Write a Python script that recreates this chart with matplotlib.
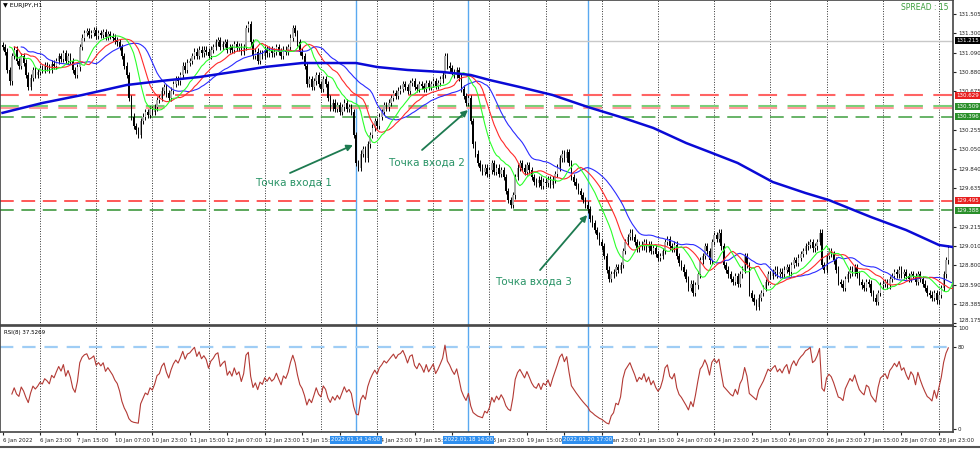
import numpy as np
import pandas as pd
import matplotlib
matplotlib.use('Agg')
import matplotlib.pyplot as plt
import matplotlib.transforms as mtransforms
from matplotlib.lines import Line2D

# EURJPY H1, closes per bar (bar 0 = 6 Jan 07:00)
close = [
    131.15, 131.10, 130.90, 130.78, 131.05, 131.12, 131.00, 130.95, 131.05, 130.98,
    130.85, 130.72, 130.82, 130.90, 130.85, 130.88, 130.92,
    130.90, 130.95, 130.93, 130.90, 130.97, 130.95,
    131.00, 131.05, 131.02, 131.08, 131.00, 131.05, 131.00,
    130.90, 130.85, 130.93, 131.15, 131.25,
    131.30, 131.32, 131.28, 131.30, 131.33, 131.27, 131.30, 131.28, 131.31, 131.26, 131.29, 131.27, 131.25,
    131.22, 131.20, 131.15, 131.05, 130.95, 130.85, 130.60,
    130.40, 130.30, 130.25, 130.20, 130.35,
    130.40, 130.45, 130.42, 130.48, 130.45, 130.50, 130.58, 130.60,
    130.68, 130.72, 130.65, 130.60, 130.68, 130.75, 130.80, 130.78, 130.85,
    130.95, 130.90, 130.98, 131.00, 131.05, 131.10, 131.05, 131.12,
    131.08, 131.12, 131.10, 131.05, 131.12, 131.15,
    131.20, 131.22, 131.15, 131.18, 131.20, 131.12,
    131.15, 131.12, 131.18, 131.14, 131.16, 131.10, 131.15,
    131.35, 131.40, 131.20,
    131.05, 131.10, 131.00, 131.08, 131.05, 131.12, 131.08,
    131.12, 131.08, 131.10, 131.15, 131.10, 131.05, 131.12, 131.10, 131.15,
    131.25, 131.35, 131.30, 131.20, 131.10, 131.05, 130.95, 130.75,
    130.80, 130.72, 130.78, 130.85, 130.75, 130.70, 130.80, 130.75,
    130.60, 130.50, 130.55,
    130.48, 130.52, 130.45, 130.50, 130.55, 130.48, 130.50, 130.45,
    130.20, 129.90, 129.85, 130.00, 130.05, 129.95, 130.10,
    130.20, 130.28, 130.35, 130.30, 130.40, 130.45, 130.52, 130.50, 130.55,
    130.60, 130.65, 130.62, 130.68,
    130.70, 130.75, 130.72, 130.68, 130.76, 130.78, 130.72, 130.70, 130.75, 130.73,
    130.70, 130.76, 130.72, 130.75, 130.78, 130.73, 130.76, 130.80, 130.85,
    131.05, 130.95, 130.92, 130.88, 130.85, 130.90, 130.82,
    130.70, 130.62, 130.55, 130.60, 130.35, 130.10, 130.00, 129.90, 129.85,
    129.80, 129.85, 129.78, 129.82, 129.90, 129.80, 129.85, 129.78, 129.82, 129.75,
    129.60, 129.50, 129.45, 129.55, 129.75, 129.85, 129.90,
    129.85, 129.80, 129.88, 129.82,
    129.75, 129.70, 129.68, 129.72, 129.65, 129.70, 129.68, 129.72, 129.66,
    129.72, 129.78, 129.85, 129.95, 130.00, 129.95, 130.02, 129.90,
    129.75, 129.70, 129.65, 129.60, 129.55, 129.50, 129.45, 129.40,
    129.30, 129.25, 129.18, 129.12, 129.05, 129.00, 128.90,
    128.75, 128.65, 128.70, 128.72, 128.78, 128.75, 128.80,
    128.95, 129.05, 129.10, 129.15, 129.10,
    129.05, 128.98, 129.02, 129.00, 129.05, 128.98, 129.02, 128.95, 128.98,
    128.92, 128.88, 128.90, 128.95, 129.05, 129.08, 129.00,
    128.98, 129.02, 128.90, 128.82, 128.78, 128.72,
    128.65, 128.55, 128.60, 128.50, 128.58, 128.70, 128.85, 128.90,
    129.00, 128.95, 128.85, 129.05, 129.12, 129.08, 129.15, 129.00,
    128.80, 128.75, 128.70, 128.65, 128.62, 128.68, 128.60, 128.70, 128.75,
    128.90, 128.80, 128.50, 128.45, 128.40, 128.35, 128.45,
    128.50, 128.55, 128.62,
    128.70, 128.68, 128.72, 128.75, 128.70, 128.73, 128.70,
    128.75, 128.78, 128.72, 128.80, 128.85, 128.82,
    128.88, 128.92, 128.95, 129.00, 129.02, 129.05, 128.98, 129.00, 129.05,
    129.15, 128.80, 128.75,
    128.90, 128.95, 128.92, 128.85, 128.75,
    128.62, 128.60, 128.55, 128.65, 128.70,
    128.75, 128.72, 128.78, 128.70,
    128.62, 128.58, 128.55, 128.62, 128.60, 128.50,
    128.45, 128.40, 128.50,
    128.58, 128.60, 128.62, 128.58, 128.65, 128.68,
    128.72, 128.70, 128.75, 128.70, 128.72, 128.68,
    128.65, 128.70, 128.68, 128.62, 128.70, 128.65, 128.60,
    128.55, 128.50, 128.48, 128.45, 128.50, 128.42, 128.48,
    128.55, 128.70, 128.85, 128.98,
]

# long moving average (thick blue), read at a few bars
ma_bar = [0, 17, 34, 53, 70, 84, 101, 112, 128, 142, 151, 160, 173, 188, 200, 208,
          221, 235, 250, 264, 278, 292, 302, 314, 329, 343, 353, 371, 386, 400, 406]
ma_val = [130.44, 130.546, 130.632, 130.74, 130.79, 130.826, 130.89, 130.934, 130.977,
          130.977, 130.977, 130.934, 130.902, 130.88, 130.848, 130.794, 130.718, 130.632,
          130.503, 130.395, 130.277, 130.115, 130.018, 129.90, 129.695, 129.576, 129.50,
          129.317, 129.177, 129.016, 128.994]

# horizontal levels
level_price = [130.629, 130.509, 130.492, 130.396, 129.495, 129.388]
level_color = ['#ff6464', '#78d078', '#ff9a9a', '#3f9f3f', '#ff2a2a', '#2f8f2f']
level_label = ['130.629', '130.509', None, '130.396', '129.495', '129.388']
bid_price = 131.215

price_ticks = [131.505, 131.300, 131.090, 130.880, 130.675, 130.255, 130.050, 129.840,
               129.635, 129.215, 129.010, 128.800, 128.590, 128.385, 128.175]

x_labels = ['6 Jan 2022', '6 Jan 23:00', '7 Jan 15:00', '10 Jan 07:00', '10 Jan 23:00',
            '11 Jan 15:00', '12 Jan 07:00', '12 Jan 23:00', '13 Jan 15:00', '',
            '14 Jan 23:00', '17 Jan 15:00', '', '18 Jan 23:00', '19 Jan 15:00', '',
            '20 Jan 23:00', '21 Jan 15:00', '24 Jan 07:00', '24 Jan 23:00', '25 Jan 15:00',
            '26 Jan 07:00', '26 Jan 23:00', '27 Jan 15:00', '28 Jan 07:00', '28 Jan 23:00']

entry_bar = [151, 199, 250]
entry_time = ['2022.01.14 14:00', '2022.01.18 14:00', '2022.01.20 17:00']
entry_text = ['Точка входа 1', 'Точка входа 2', 'Точка входа 3']
text_pos = [(124.5, 129.684), (180.9, 129.90), (226.6, 128.617)]
arrow_tail = [(122.8, 129.792), (179.2, 130.04), (229.6, 128.746)]
arrow_head = [(149.7, 130.093), (198.8, 130.47), (249.7, 129.339)]

plt.rcParams['font.family'] = ['DejaVu Sans']

c = pd.Series(close)
N = len(c)
o = c.shift(1).fillna(c.iloc[0] + 0.02)
wick = 0.035
hi = np.maximum(o, c) + wick
lo = np.minimum(o, c) - wick
idx = np.arange(N)

W, H = 980, 449
def box(x0, y0, x1, y1):
    return [x0 / W, 1 - y1 / H, (x1 - x0) / W, (y1 - y0) / H]

fig = plt.figure(figsize=(9.8, 4.49), dpi=100)
ax = fig.add_axes(box(0, 0, 953, 325))
ax2 = fig.add_axes(box(0, 326, 953, 432), sharex=ax)

for a in (ax, ax2):
    for s in a.spines.values():
        s.set_color('#444444')
        s.set_linewidth(1.2)
    for g in range(16, N + 2, 24):
        a.axvline(g, color='#333333', lw=0.7, ls=(0, (1, 1.6)), zorder=1)
    for b in entry_bar:
        a.axvline(b, color='#5aa9f0', lw=1.0, zorder=1)

# price levels
ax.axhline(bid_price, color='#c8c8c8', lw=1, zorder=1)
for p, col in zip(level_price, level_color):
    w = 1.5 if col in ('#ff6464', '#78d078', '#ff9a9a') else 1.1
    ax.axhline(p, color=col, lw=w, ls=(0, (9, 5)), zorder=1.5)

# candles
up = c >= o
ax.vlines(idx, lo, hi, color='black', lw=0.7, zorder=3)
ax.bar(idx[up], (c - o)[up].clip(lower=0.006), bottom=o[up], width=0.65,
       color='#a6a6a6', edgecolor='none', zorder=3.5)
ax.bar(idx[~up], (o - c)[~up].clip(lower=0.006), bottom=c[~up], width=0.65,
       color='black', edgecolor='none', zorder=3.5)

# alligator lines
jaw = c.ewm(alpha=1 / 13, adjust=False).mean()
teeth = c.ewm(alpha=1 / 8, adjust=False).mean()
lips = c.ewm(alpha=1 / 5, adjust=False).mean()
ax.plot(idx + 8, jaw, color='#2b2bff', lw=0.8, zorder=4)
ax.plot(idx + 5, teeth, color='#ff2b2b', lw=0.8, zorder=4)
ax.plot(idx + 3, lips, color='#2bff2b', lw=0.8, zorder=4)
ax.plot(ma_bar, ma_val, color='#0a0ad6', lw=1.8, zorder=4.5)

ax.set_xlim(-1.07, 406)
ax.set_ylim(128.154, 131.656)
ax.yaxis.tick_right()
ax.set_yticks(price_ticks)
ax.set_yticklabels(['%.3f' % t for t in price_ticks])
ax.tick_params(axis='y', direction='out', length=2, labelsize=4, pad=1.5, colors='#222222')
ax.tick_params(axis='x', bottom=False, labelbottom=False)
ax.get_yticklabels()[-1].set_va('bottom')

# price labels on the right axis
tr = mtransforms.blended_transform_factory(ax.transAxes, ax.transData)
for p, col, lab in zip(level_price, level_color, level_label):
    if lab is None:
        continue
    fc = '#e82020' if col.startswith('#ff') else '#2a8f2a'
    ax.text(1.003, p, lab, transform=tr, fontsize=4, color='white', va='center', ha='left',
            bbox=dict(fc=fc, ec='none', pad=0.7), zorder=6)
ax.text(1.003, bid_price, '%.3f' % bid_price, transform=tr, fontsize=4, color='white',
        va='center', ha='left', bbox=dict(fc='black', ec='none', pad=0.7), zorder=6)

# annotations
for t, tp, tail, head in zip(entry_text, text_pos, arrow_tail, arrow_head):
    ax.text(tp[0], tp[1], t, color='#2a9467', fontsize=7.5, ha='center', va='center', zorder=6)
    ax.annotate('', xy=head, xytext=tail, zorder=6,
                arrowprops=dict(arrowstyle='-|>', color='#1d7a50', lw=1.3, mutation_scale=9,
                                shrinkA=0, shrinkB=0))

# RSI(8)
d = c.diff()
gain = d.clip(lower=0).ewm(alpha=1 / 8, adjust=False).mean()
loss = (-d.clip(upper=0)).ewm(alpha=1 / 8, adjust=False).mean()
rsi = 100 - 100 / (1 + gain / loss)
ax2.plot(idx[4:], rsi[4:], color='#b33a35', lw=0.8, zorder=4)
ax2.axhline(80, color='#9fcdf5', lw=1.6, ls=(0, (6, 4)), zorder=2)
ax2.set_ylim(-3, 100)
ax2.yaxis.tick_right()
ax2.set_yticks([0, 80, 100])
ax2.tick_params(axis='y', direction='out', length=2, labelsize=4, pad=1.5, colors='#222222')
ax2.get_yticklabels()[-1].set_va('top')
ax2.text(0.004, 0.96, 'RSI(8) 37.5269', transform=ax2.transAxes, fontsize=4, va='top', ha='left')

label_bars = [16 * k for k in range(len(x_labels))]
ax2.set_xticks(label_bars)
ax2.set_xticklabels(x_labels)
ax2.tick_params(axis='x', direction='out', length=2, labelsize=4, pad=2, colors='#222222')
for lbl in ax2.get_xticklabels():
    lbl.set_ha('left')

trx = mtransforms.blended_transform_factory(ax2.transData, ax2.transAxes)
for b, t in zip(entry_bar, entry_time):
    ax2.text(b, -0.075, t, transform=trx, fontsize=4, color='white', ha='center', va='center',
             bbox=dict(fc='#2f8fef', ec='none', pad=0.8), zorder=6)

fig.text(3 / W, 1 - 6 / H, '▼ EURJPY,H1', fontsize=4.5, va='center', ha='left')
fig.text(948 / W, 1 - 8 / H, 'SPREAD : 15', fontsize=5.5, va='center', ha='right', color='#3a9d3a')
fig.add_artist(Line2D([0, 1], [1 - 447 / H] * 2, color='#555555', lw=1.5))

fig.savefig('out.png', dpi=100)
